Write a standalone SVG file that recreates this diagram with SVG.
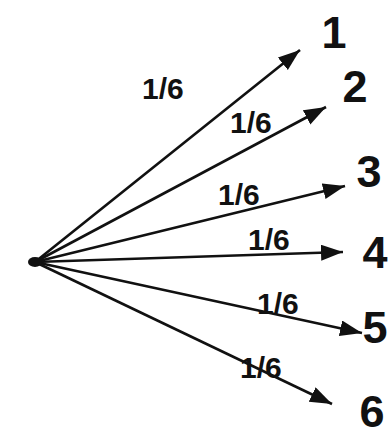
<svg xmlns="http://www.w3.org/2000/svg" width="390" height="440" viewBox="0 0 390 440">
<style>
.edge{stroke:#111;stroke-width:2.6;fill:none;marker-end:url(#ah)}
.lbl{font-family:"Liberation Sans",Arial,sans-serif;font-size:30px;font-weight:bold;fill:#111}
.num{font-family:"Liberation Sans",Arial,sans-serif;font-size:45px;font-weight:bold;fill:#111;text-anchor:middle}
</style>
<defs>
<marker id="ah" markerUnits="userSpaceOnUse" markerWidth="24" markerHeight="18" refX="22" refY="8" orient="auto">
<path d="M0,0 L22,8 L0,16 z" fill="#111"/>
</marker>
</defs>
<rect width="390" height="440" fill="#fff"/>
<g id="connectors">
<line class="edge" x1="35" y1="262" x2="300" y2="50"/>
<line class="edge" x1="35" y1="262" x2="326" y2="107"/>
<line class="edge" x1="35" y1="262" x2="345" y2="186"/>
<line class="edge" x1="35" y1="262" x2="343" y2="252"/>
<line class="edge" x1="35" y1="262" x2="362" y2="333"/>
<line class="edge" x1="35" y1="262" x2="332" y2="404"/>
<text class="lbl" x="142" y="99">1/6</text>
<text class="lbl" x="230" y="133">1/6</text>
<text class="lbl" x="218" y="205">1/6</text>
<text class="lbl" x="248" y="250">1/6</text>
<text class="lbl" x="257" y="314">1/6</text>
<text class="lbl" x="240" y="378">1/6</text>
</g>
<g id="origin"><ellipse cx="35" cy="262" rx="7" ry="5" fill="#111"/></g>
<g id="n1"><text class="num" x="334" y="48">1</text></g>
<g id="n2"><text class="num" x="355" y="102">2</text></g>
<g id="n3"><text class="num" x="369" y="187">3</text></g>
<g id="n4"><text class="num" x="375" y="268">4</text></g>
<g id="n5"><text class="num" x="375" y="343">5</text></g>
<g id="n6"><text class="num" x="372" y="427">6</text></g>
</svg>
